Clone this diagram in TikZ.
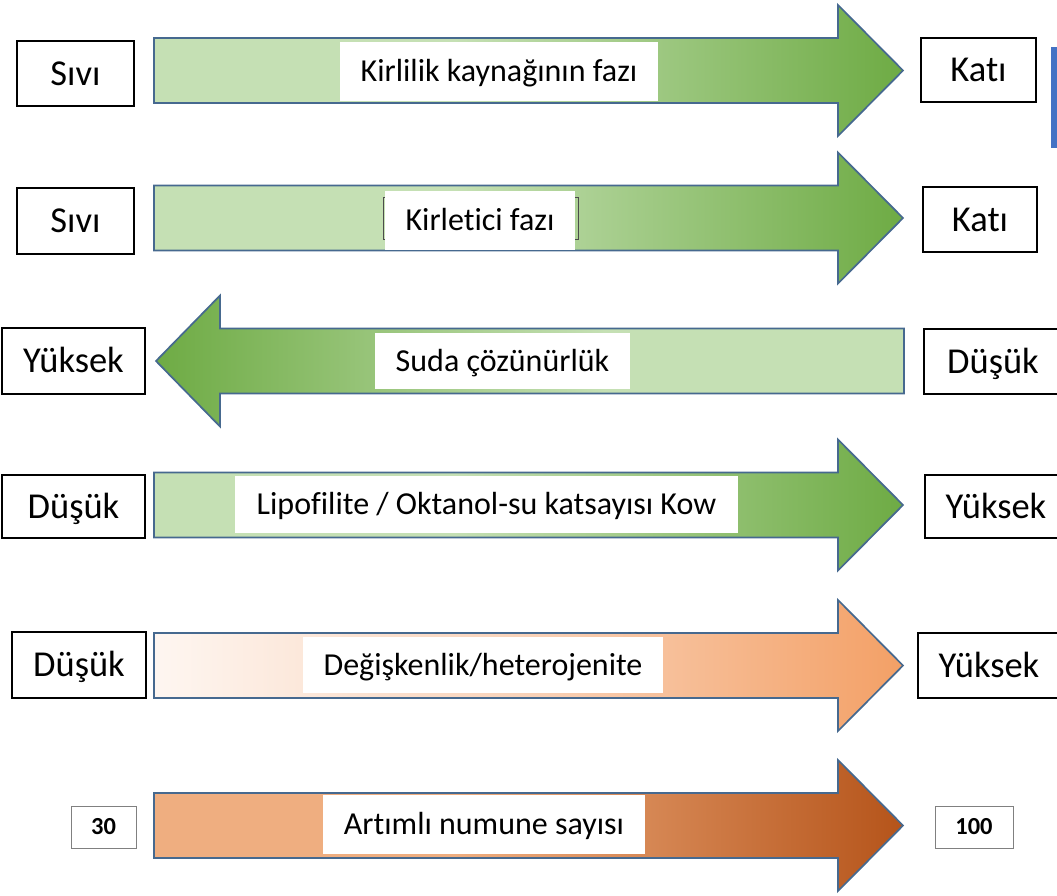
\documentclass[tikz,border=0pt]{standalone}
\usepackage{fontspec}
\setmainfont{Carlito}[Ligatures=NoCommon]

\definecolor{lgreen}{HTML}{C5E0B4}
\definecolor{dgreen}{HTML}{6EAB44}
\definecolor{lpeach}{HTML}{FEF6F1}
\definecolor{mpeach}{HTML}{F9D2B8}
\definecolor{dpeach}{HTML}{F3A066}
\definecolor{lrust}{HTML}{EFAE80}
\definecolor{drust}{HTML}{B5541A}
\definecolor{edgeblue}{HTML}{46698F}
\definecolor{barblue}{HTML}{4472C4}

\pgfdeclarehorizontalshading{greenfade}{100bp}{color(0bp)=(lgreen); color(45bp)=(lgreen); color(75bp)=(dgreen); color(100bp)=(dgreen)}
\pgfdeclarehorizontalshading{greenback}{100bp}{color(0bp)=(dgreen); color(25bp)=(dgreen); color(55bp)=(lgreen); color(100bp)=(lgreen)}
\pgfdeclarehorizontalshading{peachfade}{100bp}{color(0bp)=(lpeach); color(25bp)=(lpeach); color(50bp)=(mpeach); color(75bp)=(dpeach); color(100bp)=(dpeach)}
\pgfdeclarehorizontalshading{rustfade}{100bp}{color(0bp)=(lrust); color(45bp)=(lrust); color(75bp)=(drust); color(100bp)=(drust)}

\begin{document}
\begin{tikzpicture}[x=1pt, y=-1pt,
  every node/.style={font=\fontsize{36.5}{40}\selectfont, text height=23.5pt, text depth=0pt, inner sep=0pt},
  endbox/.style={draw=black, line width=1.4pt, minimum height=65pt},
  tagbox/.style={fill=white, font=\fontsize{32}{36}\selectfont, text height=20.6pt},
  numbox/.style={draw=gray, line width=0.9pt, font=\bfseries\fontsize{24.5}{28}\selectfont, text height=15.8pt, minimum height=42pt},
  bigarrow/.style={draw=edgeblue, line width=1.7pt, line join=miter}]
  \useasboundingbox (0,0) rectangle (1057,895);
  % Right pointing arrows
  \foreach \cy/\shd in {70.5/greenfade, 218/greenfade, 505/greenfade, 665.5/peachfade, 825.5/rustfade} {
    \shadedraw[bigarrow, shading=\shd]
      (154,{\cy-32.5}) -- (838,{\cy-32.5}) -- (838,{\cy-65.5}) -- (903,\cy)
      -- (838,{\cy+65.5}) -- (838,{\cy+32.5}) -- (154,{\cy+32.5}) -- cycle;
  }
  % Left pointing arrow
  \shadedraw[bigarrow, shading=greenback]
    (904,328.5) -- (220,328.5) -- (220,295.5) -- (156,361)
    -- (220,426.5) -- (220,393.5) -- (904,393.5) -- cycle;
  % Leftover frame behind second label
  \draw[gray!60!black, line width=0.8pt] (383,197) rectangle (578,239);
  % Arrow labels
  \node[tagbox, minimum width=318pt, minimum height=59pt] (faz1) at (499,71.5) {Kirlilik kaynağının fazı};
  \node[tagbox, minimum width=190pt, minimum height=59pt] (faz2) at (480,220.5) {Kirletici fazı};
  \node[tagbox, minimum width=255pt, minimum height=56pt] (coz3) at (502.5,361) {Suda çözünürlük};
  \node[tagbox, minimum width=503pt, minimum height=57pt] (kow4) at (486.5,504.5) {Lipofilite / Oktanol-su katsayısı Kow};
  \node[tagbox, minimum width=360pt, minimum height=56pt] (deg5) at (483,665) {Değişkenlik/heterojenite};
  \node[tagbox, minimum width=322pt, minimum height=59pt] (num6) at (484,824.5) {Artımlı numune sayısı};
  % End boxes
  \node[endbox, minimum width=117pt] (sivi1) at (75.5,73.5) {Sıvı};
  \node[endbox, minimum width=115pt, minimum height=64pt] (kati1) at (978.5,70) {Katı};
  \node[endbox, minimum width=117pt, minimum height=66pt] (sivi2) at (75.5,221) {Sıvı};
  \node[endbox, minimum width=114pt] (kati2) at (980,219.5) {Katı};
  \node[endbox, minimum width=143pt, minimum height=66pt] (yuksek3) at (73.5,361) {Yüksek};
  \node[endbox, minimum width=138pt] (dusuk3) at (993,361.5) {Düşük};
  \node[endbox, minimum width=143pt, minimum height=63pt] (dusuk4) at (73.5,506.5) {Düşük};
  \node[endbox, minimum width=142pt, minimum height=63pt] (yuksek4) at (996,506.5) {Yüksek};
  \node[endbox, minimum width=134pt, minimum height=66pt] (dusuk5) at (79,665) {Düşük};
  \node[endbox, minimum width=142pt] (yuksek5) at (989,665.5) {Yüksek};
  \node[numbox, minimum width=65pt] (n30) at (103.5,827) {30};
  \node[numbox, minimum width=78pt] (n100) at (974,827) {100};
  % Side bar
  \fill[barblue] (1051,47) rectangle (1062,148);
\end{tikzpicture}
\end{document}
